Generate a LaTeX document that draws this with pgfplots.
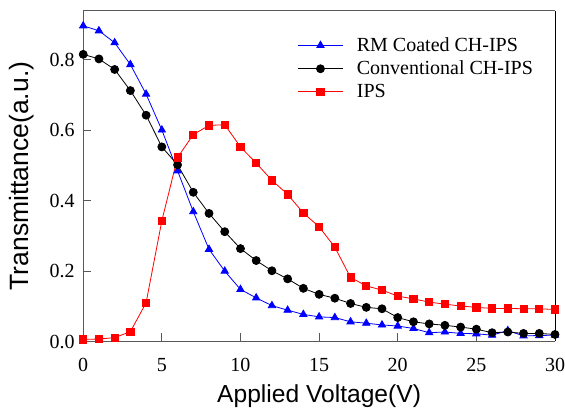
\documentclass[border=0pt]{standalone}
\usepackage{pgfplots}
\pgfplotsset{compat=1.18}
\usepackage{fontspec}
\setmainfont{Liberation Serif}
\newfontfamily\arial{Liberation Sans}
\pgfplotstableread{
v rm conv ips
0 0.897 0.816 0.006
1 0.883 0.803 0.007
2 0.849 0.773 0.011
3 0.787 0.713 0.028
4 0.703 0.643 0.110
5 0.601 0.553 0.343
6 0.485 0.502 0.523
7 0.369 0.424 0.588
8 0.262 0.364 0.614
9 0.200 0.312 0.616
10 0.148 0.264 0.553
11 0.124 0.230 0.507
12 0.102 0.201 0.458
13 0.089 0.178 0.418
14 0.077 0.151 0.365
15 0.070 0.134 0.326
16 0.068 0.123 0.268
17 0.056 0.108 0.182
18 0.052 0.097 0.158
19 0.047 0.093 0.146
20 0.044 0.068 0.129
21 0.037 0.056 0.121
22 0.025 0.050 0.112
23 0.027 0.046 0.106
24 0.023 0.041 0.101
25 0.022 0.035 0.097
26 0.018 0.025 0.094
27 0.031 0.027 0.094
28 0.016 0.023 0.093
29 0.017 0.023 0.093
30 0.018 0.020 0.091
}\datatab
\begin{document}
\begin{tikzpicture}
\useasboundingbox (-83.2pt,-75.5pt) rectangle (481.8pt,341.5pt);
\begin{axis}[
  name=ax, at={(0,0)}, anchor=south west,
  scale only axis, width=471.8pt, height=330.8pt,
  xmin=0, xmax=30, ymin=0, ymax=0.94, clip=false,
  xtick={0,5,...,30}, ytick={0,0.2,0.4,0.6,0.8},
  tick align=inside, major tick length=8pt,
  xtick pos=bottom, ytick pos=left,
  axis line style={draw=none},
  tick style={draw=black!65, line width=1pt},
  /pgf/number format/assume math mode=true,
  ticklabel style={font=\fontsize{20}{22}\selectfont},
  yticklabel style={/pgf/number format/fixed, /pgf/number format/fixed zerofill, /pgf/number format/precision=1, xshift=-5pt},
  xticklabel style={yshift=-13pt},
  xlabel={\arial Applied Voltage(V)},
  ylabel={\arial Transmittance(a.u.)},
  xlabel style={font=\fontsize{24.6}{28}\selectfont, yshift=-6pt},
  ylabel style={font=\fontsize{26.5}{30}\selectfont, yshift=9pt},
  legend cell align=left,
  legend style={draw=none, fill=none, at={(0.455,0.925)}, anchor=north west,
    font=\fontsize{20}{22}\selectfont, row sep=4pt, inner sep=0pt,
    /tikz/every odd column/.append style={column sep=11pt}},
  legend image code/.code={\draw[mark repeat=2,mark phase=2] plot coordinates {(0pt,0pt) (22pt,0pt) (45pt,0pt)};},
]
\draw[black!65, line width=1.3pt] (rel axis cs:1,1) -- (rel axis cs:0,1) -- (rel axis cs:0,0) -- (rel axis cs:1,0);
\draw[black, line width=0.6pt] (rel axis cs:1,0) -- (rel axis cs:1,1);
\addplot[blue, line width=0.8pt, mark=triangle*, mark size=4.2pt, mark options={solid}] table[x=v,y=rm] {\datatab};
\addlegendentry{RM Coated CH-IPS}
\addplot[black, line width=0.8pt, mark=*, mark size=4pt] table[x=v,y=conv] {\datatab};
\addlegendentry{Conventional CH-IPS}
\addplot[red, line width=0.8pt, mark=square*, mark size=3.6pt] table[x=v,y=ips] {\datatab};
\addlegendentry{IPS}
\end{axis}
\end{tikzpicture}
\end{document}
